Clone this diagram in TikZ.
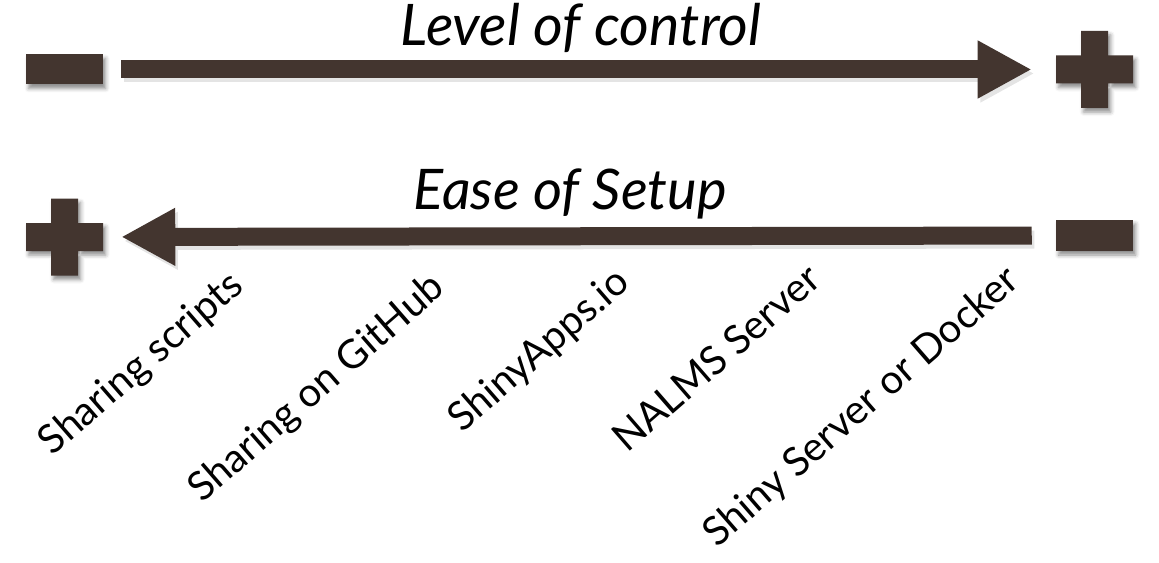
\documentclass[tikz,border=0pt]{standalone}
\usepackage{fontspec}
\setmainfont{Lato}
\usetikzlibrary{arrows.meta,positioning,shadows.blur}

\definecolor{bark}{HTML}{43352F}
\definecolor{shadelight}{HTML}{E4E4E4}

\tikzset{
    bar/.style={fill=bark, blur shadow={shadow xshift=2pt, shadow yshift=-3pt, shadow blur radius=3pt, shadow opacity=45}},
    sign/.style={inner sep=0pt, minimum width=57.75pt, minimum height=57.75pt},
    minus/.style={bar, inner sep=0pt, minimum width=57.75pt, minimum height=22.5pt},
    axis/.style={draw=bark, line width=13.5pt, -{Triangle[length=40.5pt, width=40.5pt]}},
    axisshadow/.style={axis, draw=shadelight, transform canvas={shift={(2pt,-3pt)}}},
    heading/.style={font=\fontsize{42}{48}\selectfont\itshape, anchor=base, inner sep=0pt},
    option/.style={font=\fontsize{30}{36}\selectfont, rotate=41, anchor=base east, inner sep=0pt}
}

\begin{document}
\begin{tikzpicture}[x=0.75pt, y=-0.75pt]
    \useasboundingbox (0,0) rectangle (1159,563);

    % Level of control
    \node[minus] (lowA) at (64.5, 69.5) {};
    \node[sign] (highA) at (1094.5, 69.5) {};
    \fill[bar] (highA.center) ++(-38.5,-14) rectangle ++(77,28)
               (highA.center) ++(-13.5,-38.5) rectangle ++(27,77);
    \node[heading, font=\fontsize{43}{48}\selectfont\itshape] (control) at (581, 46) {Level of control};
    \draw[axisshadow, shorten <=13.5pt, shorten >=18pt] (lowA) -- (highA);
    \draw[axis, shorten <=13.5pt, shorten >=18pt] (lowA) -- (highA);

    % Ease of setup
    \node[sign] (highB) at (64.5, 237) {};
    \fill[bar] (highB.center) ++(-38.5,-14) rectangle ++(77,28)
               (highB.center) ++(-13.5,-38.5) rectangle ++(27,77);
    \node[minus, minimum height=23.25pt] (lowB) at (1094.5, 235.5) {};
    \node[heading] (setup) at (570, 209) {Ease of Setup};
    \draw[axisshadow, shorten <=18pt, shorten >=13.5pt] (lowB) -- (highB);
    \draw[axis, shorten <=18pt, shorten >=13.5pt] (lowB) -- (highB);

    % Options
    \node[option] (scripts) at (246, 289) {Sharing scripts};
    \node[option] (github) at (447, 291) {Sharing on GitHub};
    \node[option] (shinyapps) at (632, 286) {ShinyApps.io};
    \node[option] (nalms) at (824, 283) {NALMS Server};
    \node[option] (docker) at (1022, 284) {Shiny Server or Docker};
\end{tikzpicture}
\end{document}
